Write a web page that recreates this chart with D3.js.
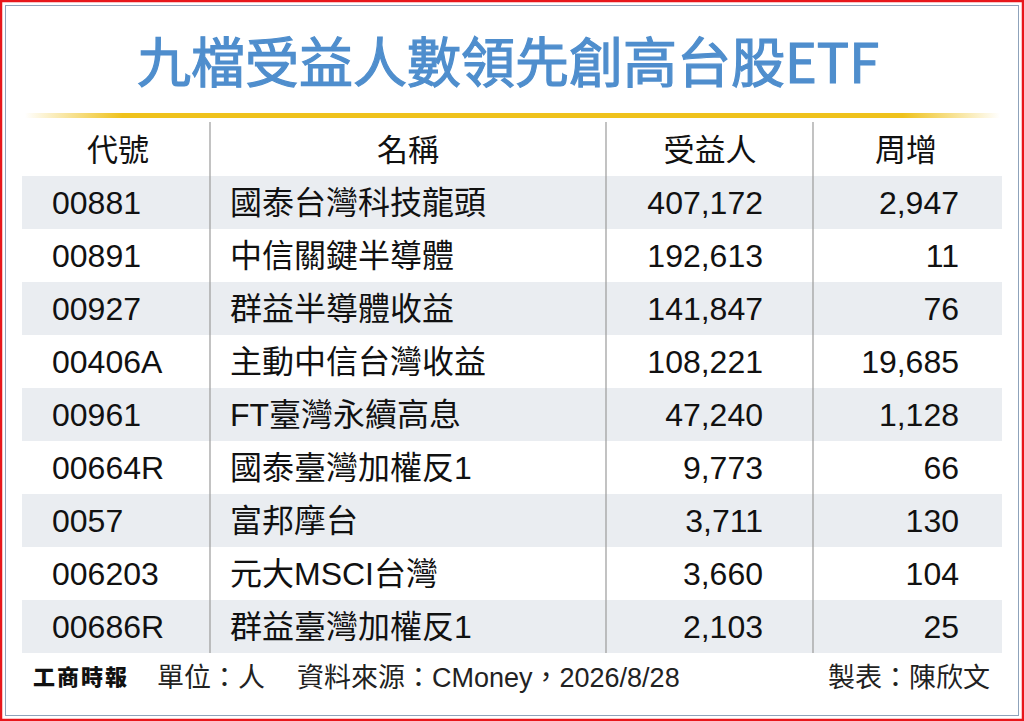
<!DOCTYPE html>
<html>
<head>
<meta charset="utf-8">
<script src="https://cdn.jsdelivr.net/npm/d3@7"></script>
<style>
  html, body { margin: 0; padding: 0; background: #fff; }
  svg { display: block; }
  text { font-family: "Liberation Sans", Arial, "Noto Sans CJK TC", sans-serif; }
</style>
</head>
<body>
<svg id="chart" width="1024" height="721"></svg>
<script>
const columns = ["代號", "名稱", "受益人", "周增"];
const codes = ["00881", "00891", "00927", "00406A", "00961", "00664R", "0057", "006203", "00686R"];
const names = ["國泰台灣科技龍頭", "中信關鍵半導體", "群益半導體收益", "主動中信台灣收益",
  "FT臺灣永續高息", "國泰臺灣加權反1", "富邦摩台", "元大MSCI台灣", "群益臺灣加權反1"];
const holders = [407172, 192613, 141847, 108221, 47240, 9773, 3711, 3660, 2103];
const weekly = [2947, 11, 76, 19685, 1128, 66, 130, 104, 25];

const title = "九檔受益人數領先創高台股ETF";
const unitNote = "單位：人";
const sourceNote = "資料來源：CMoney，2026/8/28";
const author = "製表：陳欣文";
const logo = "工商時報";

const W = 1024, H = 721;
const svg = d3.select("#chart");
const fmt = d3.format(",");

// frame: red outer, thin blue-gray inner
svg.append("rect").attr("x", 1).attr("y", 1).attr("width", W - 2).attr("height", H - 2)
  .attr("fill", "#fff").attr("stroke", "#e8161b").attr("stroke-width", 2.5);
svg.append("rect").attr("x", 5.5).attr("y", 5.5).attr("width", 1013).attr("height", 710)
  .attr("fill", "none").attr("stroke", "#8fa3bb").attr("stroke-width", 1);

// title
svg.append("text")
  .attr("x", 508).attr("y", 83)
  .attr("text-anchor", "middle")
  .style("font-family", "'Noto Sans CJK TC', sans-serif")
  .style("font-size", "54px").style("font-weight", 400)
  .attr("fill", "#4f8ecd")
  .attr("stroke", "#4f8ecd").attr("stroke-width", 1.2)
  .text(title);

// gold rule with faded ends
const grad = svg.append("defs").append("linearGradient")
  .attr("id", "gold").attr("x1", "0%").attr("x2", "100%");
grad.append("stop").attr("offset", "0%").attr("stop-color", "#efc21c").attr("stop-opacity", 0);
grad.append("stop").attr("offset", "10%").attr("stop-color", "#efc21c").attr("stop-opacity", 1);
grad.append("stop").attr("offset", "90%").attr("stop-color", "#efc21c").attr("stop-opacity", 1);
grad.append("stop").attr("offset", "100%").attr("stop-color", "#efc21c").attr("stop-opacity", 0);
svg.append("rect").attr("x", 25).attr("y", 113).attr("width", 975).attr("height", 5)
  .attr("fill", "url(#gold)");

// table geometry
const y = d3.scaleBand().domain(codes).range([176, 653]);
const headerY = 150;
const colX = {
  codeL: 52, nameL: 230, holdR: 763, weekR: 959,
  head: [118, 408, 710, 906],
  dividers: [210, 606, 813]
};

const rows = codes.map((c, i) => ({ code: c, name: names[i], holders: holders[i], weekly: weekly[i], i }));

// shaded bands
svg.selectAll(".band")
  .data(rows.filter(d => d.i % 2 === 0))
  .enter()
  .append("rect")
  .classed("band", true)
  .attr("x", 22).attr("width", 980)
  .attr("y", d => y(d.code))
  .attr("height", y.bandwidth())
  .attr("fill", "#eaedf1");

// column dividers
svg.selectAll(".divider")
  .data(colX.dividers)
  .enter()
  .append("line")
  .attr("x1", d => d).attr("x2", d => d)
  .attr("y1", 122).attr("y2", 653)
  .attr("stroke", "#9a9a9a").attr("stroke-width", 1.2);

// header
svg.selectAll(".head")
  .data(columns)
  .enter()
  .append("text")
  .attr("x", (d, i) => colX.head[i])
  .attr("y", headerY + 11)
  .attr("text-anchor", "middle")
  .style("font-family", "'Noto Sans CJK TC', sans-serif")
  .style("font-size", "31px")
  .attr("fill", "#111")
  .text(d => d);

// body cells
const base = d => y(d.code) + y.bandwidth() / 2 + 11.5;
const g = svg.append("g").style("font-size", "32px").attr("fill", "#111");

g.selectAll(".code").data(rows).enter().append("text")
  .attr("x", colX.codeL).attr("y", base).text(d => d.code);
g.selectAll(".name").data(rows).enter().append("text")
  .attr("x", colX.nameL).attr("y", base).text(d => d.name);
g.selectAll(".hold").data(rows).enter().append("text")
  .attr("x", colX.holdR).attr("y", base).attr("text-anchor", "end").text(d => fmt(d.holders));
g.selectAll(".week").data(rows).enter().append("text")
  .attr("x", colX.weekR).attr("y", base).attr("text-anchor", "end").text(d => fmt(d.weekly));

// footer
svg.append("text")
  .attr("x", 33).attr("y", 685)
  .style("font-family", "'Noto Sans CJK TC', sans-serif")
  .style("font-size", "22px").style("font-weight", 900)
  .style("letter-spacing", "2px")
  .attr("fill", "#111")
  .text(logo);

const foot = svg.append("g").style("font-size", "27px").attr("fill", "#222");
foot.append("text").attr("x", 157).attr("y", 687).text(unitNote);
foot.append("text").attr("x", 297).attr("y", 687).text(sourceNote);
foot.append("text").attr("x", 990).attr("y", 687).attr("text-anchor", "end").text(author);
</script>
</body>
</html>
